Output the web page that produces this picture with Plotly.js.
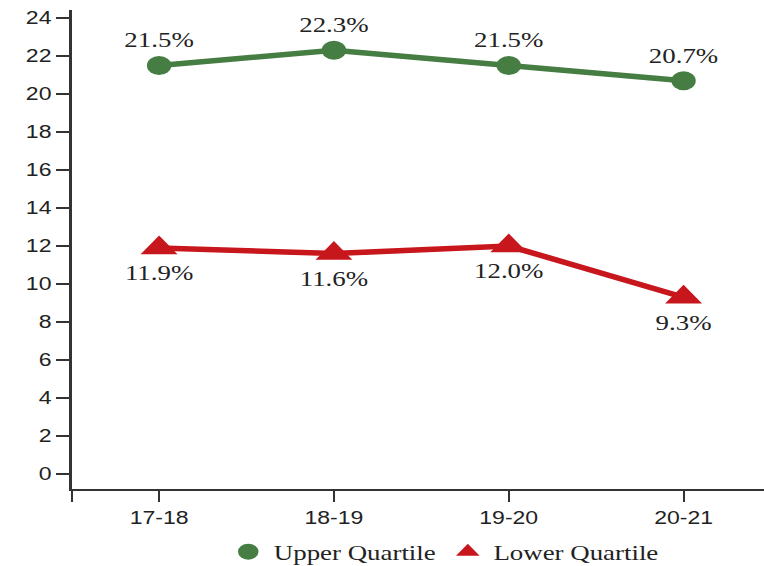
<!DOCTYPE html>
<html>
<head>
<meta charset="utf-8">
<script src="https://cdn.plot.ly/plotly-3.0.1.min.js"></script>
<style>
html,body{margin:0;padding:0;background:#fff;overflow:hidden;width:764px;height:566px;}
#chart{width:597px;height:566px;transform:scaleX(1.28);transform-origin:0 0;}
</style>
</head>
<body>
<div id="chart"></div>
<script>
const categories = ['17-18', '18-19', '19-20', '20-21'];
const upperQuartile = [21.5, 22.3, 21.5, 20.7];
const lowerQuartile = [11.9, 11.6, 12.0, 9.3];
const yTicks = [0, 2, 4, 6, 8, 10, 12, 14, 16, 18, 20, 22, 24];

const green = '#467d43';
const red = '#c8161d';
const xIdx = categories.map((c, i) => i);
const fmt = v => v.toFixed(1) + '%';
const serif = {family: 'Liberation Serif, Times New Roman, serif', size: 21, color: '#222'};
const sans = {family: 'Liberation Sans, Arial, sans-serif', size: 18, color: '#222'};

const traces = [
  {x: xIdx, y: upperQuartile, mode: 'lines', line: {color: green, width: 5.5}, showlegend: false, hoverinfo: 'skip'},
  {x: xIdx, y: lowerQuartile, mode: 'lines', line: {color: red, width: 5.5}, showlegend: false, hoverinfo: 'skip'},
  {x: xIdx, y: upperQuartile, mode: 'markers+text', name: 'Upper Quartile',
   marker: {symbol: 'circle', size: 19, color: green},
   text: upperQuartile.map(fmt), textposition: 'top center', textfont: serif},
  {x: xIdx, y: lowerQuartile, mode: 'markers+text', name: 'Lower Quartile',
   marker: {symbol: 'triangle-up', size: 25, color: red},
   text: lowerQuartile.map(fmt), textposition: 'bottom center', textfont: serif}
];

const layout = {
  width: 597, height: 566,
  margin: {l: 55.5, r: 0, t: 10, b: 77, autoexpand: false},
  paper_bgcolor: '#fff', plot_bgcolor: '#fff',
  font: sans,
  xaxis: {
    range: [-0.5, 3.461], tickmode: 'array',
    tickvals: [-0.5].concat(xIdx), ticktext: [''].concat(categories),
    showgrid: false, zeroline: false, showline: true, linecolor: '#333', linewidth: 2,
    ticks: 'outside', ticklen: 11, tickwidth: 1.6, tickcolor: '#333',
    tickfont: sans
  },
  yaxis: {
    range: [-0.79, 24.42], tickmode: 'array', tickvals: yTicks,
    showgrid: false, zeroline: false, showline: true, linecolor: '#333', linewidth: 2.2,
    ticks: 'outside', ticklen: 10, tickwidth: 2, tickcolor: '#333',
    tickfont: sans
  },
  legend: {
    orientation: 'h', x: 0.218, xanchor: 'left', y: -0.1315, yanchor: 'middle',
    font: serif, itemwidth: 30, tracegroupgap: 0
  },
  showlegend: true
};

Plotly.newPlot('chart', traces, layout, {staticPlot: true, displayModeBar: false});
</script>
</body>
</html>
